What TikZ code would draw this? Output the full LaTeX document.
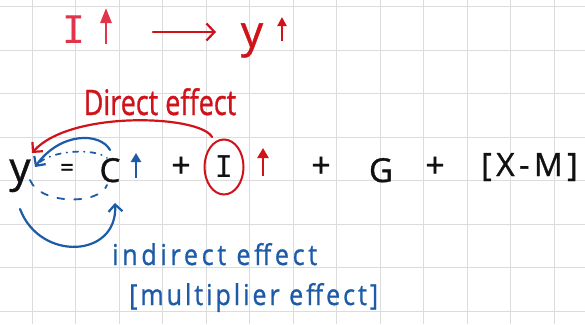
\documentclass[tikz,border=0pt]{standalone}
\usepackage{fontspec}
\setmainfont{Open Sans}
\newfontfamily\monoI{DejaVu Sans Mono}
\usetikzlibrary{arrows.meta,shapes.geometric,calc}
\definecolor{gridc}{HTML}{DCDCDC}
\definecolor{pinkred}{HTML}{E0354B}
\definecolor{hred}{HTML}{D0121B}
\definecolor{hblue}{HTML}{1C5BA8}
\definecolor{ink}{HTML}{111111}
\begin{document}
\begin{tikzpicture}[x=1pt,y=-1pt,
  eqtxt/.style={anchor=base, inner sep=0pt, text=ink, font=\fontsize{33}{36}\selectfont\addfontfeature{FakeBold=1}},
  optxt/.style={anchor=center, inner sep=0pt, text=ink, font=\fontsize{34}{36}\selectfont\addfontfeature{FakeBold=1}},
  uparrow/.style={line width=2.4pt, -{Triangle[length=11pt,width=10pt]}},
  chev/.style={-{Straight Barb[length=7pt,width=14pt]}},
  bluecurve/.style={hblue, line width=2.2pt, line cap=round},
  redcurve/.style={hred, line width=2.2pt, line cap=round}]
\fill[white] (0,0) rectangle (585,324);
\useasboundingbox (0,0) rectangle (585,324);
\foreach \i in {0,...,12} \draw[gridc, line width=1pt] ({32+43.5*\i},0) -- ({32+43.5*\i},324);
\foreach \j in {0,...,7} \draw[gridc, line width=1pt] (0,{6.5+43.5*\j}) -- (585,{6.5+43.5*\j});

% top row
\node[anchor=base, inner sep=0pt, text=pinkred, font=\monoI\fontsize{38}{40}\selectfont] (tI) at (74,43) {I};
\draw[uparrow, pinkred, line width=2.8pt, -{Triangle[length=15pt,width=11pt]}] (106,44) -- (106,8);
\coordinate (aS) at (153,32);
\coordinate (aE) at (216,32);
\draw[redcurve, -{Straight Barb[length=8pt,width=17pt]}] (aS) -- (aE);
\node[anchor=base, inner sep=0pt, text=hred, font=\fontsize{44}{46}\selectfont\addfontfeature{FakeBold=1}] (ty) at (252,47) {y};
\draw[uparrow, hred, -{Triangle[length=9pt,width=9pt]}] (282,41) -- (282,17);

% equation
\node[eqtxt, font=\fontsize{42}{44}\selectfont\addfontfeature{FakeBold=1}] (ey) at (20,182) {y};
\node[optxt, font=\fontsize{24}{26}\selectfont\addfontfeature{FakeBold=1.5}] (eqs) at (67,170) {=};
\node[eqtxt] (eC) at (110,182) {C};
\draw[uparrow, hblue, -{Triangle[length=9pt,width=10pt]}] (136,178) -- (136,153);
\node[optxt] (p1) at (181,167) {+};
\node[ellipse, draw=hred, line width=2pt, minimum width=39pt, minimum height=55pt, inner sep=0pt,
      text=ink, font=\monoI\fontsize{30}{34}\selectfont] (cI) at (224,167) {I};
\draw[uparrow, hred, -{Triangle[length=10pt,width=11pt]}] (263,176) -- (263,148);
\node[optxt] (p2) at (321,167) {+};
\node[eqtxt] (eG) at (381,182) {G};
\node[optxt] (p3) at (435,167) {+};
\node[anchor=base west, inner sep=0pt, text=ink, font=\fontsize{32}{34}\selectfont\addfontfeature{FakeBold=1,LetterSpace=14}] (eXM) at (481,176) {[X-M]};

% direct effect
\node[anchor=base, inner sep=0pt, text=hred, font=\fontsize{27}{30}\selectfont\addfontfeature{FakeBold=1}] (de) at (160,115) {\scalebox{1}[1.3]{Direct effect}};
\draw[redcurve, chev] ([shift={(-12,-30)}]cI.center) .. controls (200,115) and (70,110) .. ([shift={(12,-29)}]ey.base);

% indirect effect loops
\draw[bluecurve, chev] ([shift={(0,-32)}]eC.base) .. controls (100,132) and (60,132) .. ([shift={(15,-15)}]ey.base);
\draw[bluecurve, line width=1.8pt, dash pattern=on 5pt off 6pt on 0.5pt off 6pt] ([shift={(20,-20)}]ey.base) .. controls (55,150) and (95,148) .. ([shift={(-3,-24)}]eC.base);
\draw[bluecurve, line width=1.8pt, dash pattern=on 7pt off 10pt] ([shift={(10,-2)}]ey.base) .. controls (40,205) and (100,205) .. ([shift={(-3,3)}]eC.base);
\draw[bluecurve, chev] ([shift={(0,27)}]ey.base) .. controls (40,262) and (118,258) .. ([shift={(5,21)}]eC.base);

\node[anchor=base west, inner sep=0pt, text=hblue, font=\fontsize{25}{28}\selectfont\addfontfeature{FakeBold=1,LetterSpace=15}] (ie) at (112,265) {\scalebox{1}[1.15]{indirect effect}};
\node[anchor=base west, inner sep=0pt, text=hblue, font=\fontsize{25}{28}\selectfont\addfontfeature{FakeBold=1,LetterSpace=12}] (me) at (129,305) {\scalebox{1}[1.15]{[multiplier effect]}};
\end{tikzpicture}
\end{document}
